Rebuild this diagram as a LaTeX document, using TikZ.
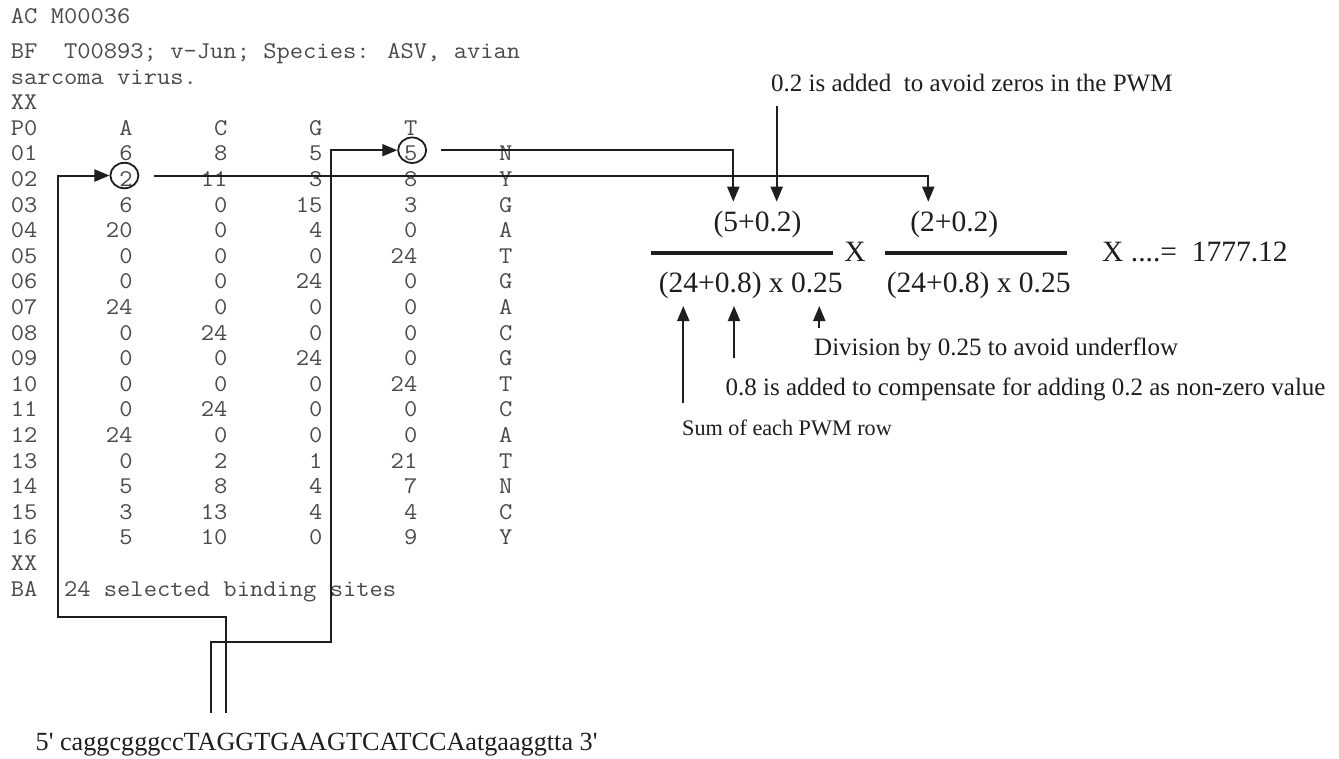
\documentclass[tikz,border=0pt]{standalone}
\usepackage{fontspec}
\usepackage{graphicx}
\usetikzlibrary{arrows.meta,shapes.geometric}
\newfontfamily\serf{Liberation Serif}
\definecolor{monogray}{HTML}{4A4A4A}
\definecolor{ink}{HTML}{1E1E1E}
\newcommand\mt[1]{\scalebox{1.075}[1]{#1}}
\tikzset{
 mono/.style={font=\ttfamily\fontsize{24}{24}\selectfont, text=monogray, inner sep=0pt},
 cellv/.style={mono, anchor=base east},
 celll/.style={mono, anchor=base west},
 ring/.style={draw=ink, line width=1.8pt, ellipse, minimum width=28pt, minimum height=25.5pt, inner sep=0pt},
 conn/.style={draw=ink, line width=2pt},
 arr/.style={conn, -{Triangle[length=15pt,width=12pt]}},
 note/.style={font=\serf\fontsize{25}{25}\selectfont, text=ink, inner sep=0pt, anchor=base west},
 notesm/.style={font=\serf\fontsize{22.2}{22.2}\selectfont, text=ink, inner sep=0pt, anchor=base west},
 formula/.style={font=\serf\fontsize{29.5}{29.5}\selectfont, text=ink, inner sep=0pt, anchor=base},
 seqf/.style={font=\serf\fontsize{26.2}{26.2}\selectfont, text=ink, inner sep=0pt, anchor=base west},
 bar/.style={draw=ink, line width=4pt},
}
\begin{document}
\begin{tikzpicture}[x=1pt,y=-1pt]
\useasboundingbox[fill=white] (0,0) rectangle (1339,758);
% header lines
\node[celll] (ac) at (10.7,23) {\mt{AC M00036}};
\node[celll] (bf) at (10.7,58.5) {\mt{BF\ \ T00893; v-Jun; Species: ASV, avian}};
\node[celll] (sv) at (10.7,84.1) {\mt{sarcoma virus.}};
\node[celll] (xx1) at (10.7,109.7) {\mt{XX}};
\node[celll] (p0) at (10.7,135.3) {\mt{P0}};
\node[cellv] (hA) at ({10.7+9*13.56},135.3) {\mt{A}};
\node[cellv] (hC) at ({10.7+16*13.56},135.3) {\mt{C}};
\node[cellv] (hG) at ({10.7+23*13.56},135.3) {\mt{G}};
\node[cellv] (hT) at ({10.7+30*13.56},135.3) {\mt{T}};
% matrix rows
\foreach \k/\a/\c/\g/\t/\n in {1/6/8/5/5/N, 2/2/11/3/8/Y, 3/6/0/15/3/G, 4/20/0/4/0/A, 5/0/0/0/24/T, 6/0/0/24/0/G, 7/24/0/0/0/A, 8/0/24/0/0/C, 9/0/0/24/0/G, 10/0/0/0/24/T, 11/0/24/0/0/C, 12/24/0/0/0/A, 13/0/2/1/21/T, 14/5/8/4/7/N, 15/3/13/4/4/C, 16/5/10/0/9/Y}{
  \pgfmathsetmacro\yb{135.3+25.6*\k}
  \node[celll] (lab\k) at (10.7,\yb) {\mt{\ifnum\k<10 0\fi\k}};
  \node[cellv] (a\k) at ({10.7+9*13.56},\yb) {\mt{\a}};
  \node[cellv] (c\k) at ({10.7+16*13.56},\yb) {\mt{\c}};
  \node[cellv] (g\k) at ({10.7+23*13.56},\yb) {\mt{\g}};
  \node[cellv] (t\k) at ({10.7+30*13.56},\yb) {\mt{\t}};
  \node[celll] (n\k) at ({10.7+36*13.56},\yb) {\mt{\n}};
}
\node[celll] (xx2) at (10.7,570.5) {\mt{XX}};
\node[celll] (ba) at (10.7,596.1) {\mt{BA\ \ 24 selected binding sites}};
% rings
\node[ring] (ringA) at ([yshift=3.5pt,xshift=-1.5pt]a2.center) {};
\node[ring] (ringT) at ([yshift=3.5pt,xshift=1.5pt]t1.center) {};
% sequence
\node[seqf] (seq) at (35.5,750) {5{\char"27} caggcgggccTAGGTGAAGTCATCCAatgaaggtta 3{\char"27}};
% connector coordinates
\coordinate (sA) at (226,712.7);
\coordinate (kA) at (58,617.3);
\coordinate (sT) at (210.7,712.7);
\coordinate (kT) at (331.4,642.3);
\coordinate (tipT) at (733.3,201.7);
\coordinate (tipA) at (928.3,201.7);
\coordinate (tip02) at (776.7,201.7);
% connectors from sequence
\draw[arr] (sA) |- (kA) |- (ringA);
\draw[arr] (sT) |- (kT) |- (ringT);
\draw[arr, shorten <=14pt] (ringT) -| (tipT);
\draw[arr, shorten <=15pt] (ringA) -| (tipA);
% formula
\node[note] (n02) at (771,91) {0.2 is added\ \ to avoid zeros in the PWM};
\draw[arr, shorten <=14pt] (tip02 |- n02.south) -- (tip02);
\node[formula] (num1) at (757.5,231.5) {(5+0.2)};
\node[formula] (num2) at (954.3,231.5) {(2+0.2)};
\draw[bar] (651,252.7) -- (833.3,252.7);
\draw[bar] (885,252.7) -- (1067,252.7);
\node[formula] (x1) at (855,261.7) {X};
\node[formula, anchor=base west] (res) at (1102,261.7) {X ....=\ \ 1777.12};
\node[formula] (den1) at (750.8,292.5) {(24+0.8) x 0.25};
\node[formula] (den2) at (978.7,292.5) {(24+0.8) x 0.25};
% annotations
\node[note] (ndiv) at (814,355) {Division by 0.25 to avoid underflow};
\node[note] (n08) at (725.5,395) {0.8 is added to compensate for adding 0.2 as non-zero value};
\node[notesm] (nsum) at (682,435.5) {Sum of each PWM row};
\coordinate (u1) at (683.3,306);
\coordinate (u2) at (734,306);
\coordinate (u3) at (819.3,306);
\draw[arr] (683.3,402.7) -- (u1);
\draw[arr] (734,358.3) -- (u2);
\draw[arr] (819.3,328.3) -- (u3);
\end{tikzpicture}
\end{document}
